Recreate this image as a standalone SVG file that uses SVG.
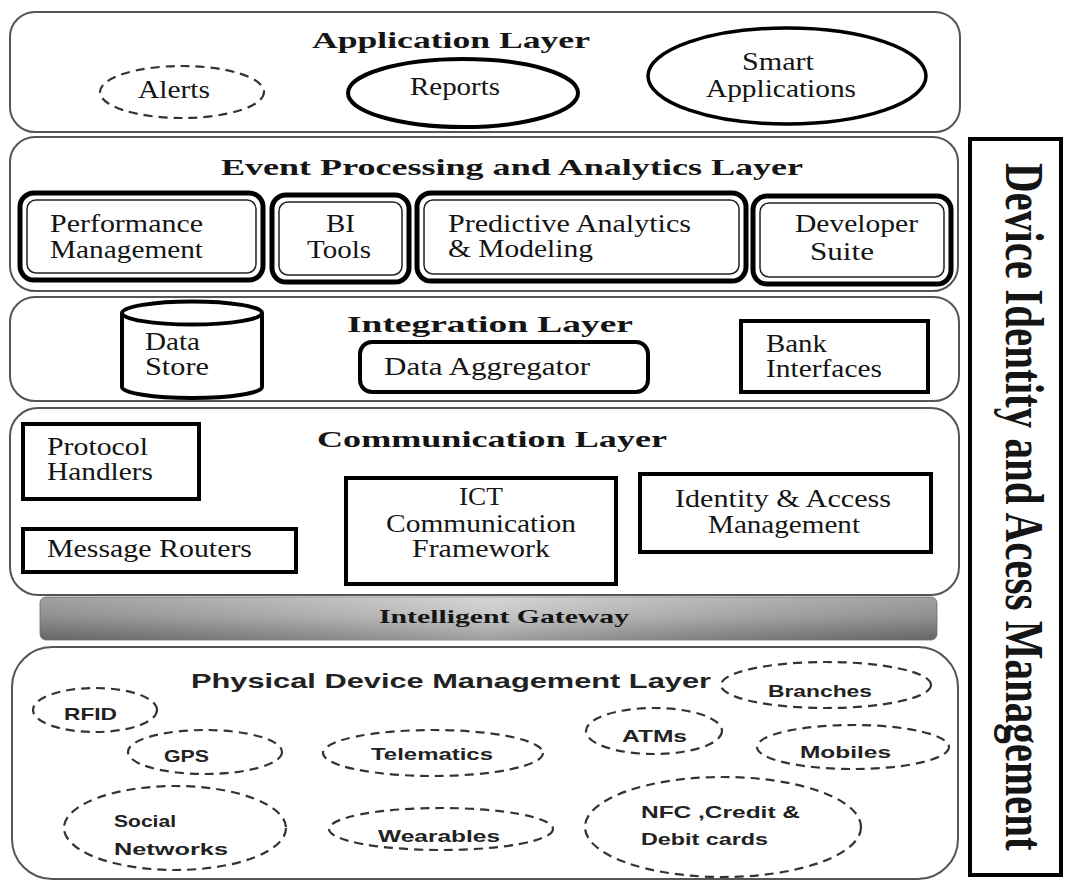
<svg xmlns="http://www.w3.org/2000/svg" width="1066" height="882" viewBox="0 0 1066 882">
<style>
.layer{fill:#fff;stroke:#555;stroke-width:2}
.s{font-family:"Liberation Serif","Times New Roman",serif;fill:#151515}
.t{font-weight:bold;font-size:24px}
.i{font-size:25px}
.ss{font-family:"Liberation Sans",Arial,sans-serif;fill:#222;font-weight:bold}
.pl{font-size:17px}
.dash{fill:none;stroke:#333;stroke-width:2.2;stroke-dasharray:9 6}
.thick{fill:#fff;stroke:#000;stroke-width:4}
.outer{fill:#fff;stroke:#000;stroke-width:5}
.inner{fill:none;stroke:#222;stroke-width:1.5}
</style>
<defs>
<linearGradient id="gv" x1="0" y1="0" x2="0" y2="1">
<stop offset="0" stop-color="#c9c9c9"/>
<stop offset="0.45" stop-color="#b4b4b4"/>
<stop offset="1" stop-color="#7e7e7e"/>
</linearGradient>
<linearGradient id="gh" x1="0" y1="0" x2="1" y2="0">
<stop offset="0" stop-color="#000" stop-opacity="0.2"/>
<stop offset="0.5" stop-color="#fff" stop-opacity="0.25"/>
<stop offset="1" stop-color="#000" stop-opacity="0.2"/>
</linearGradient>
</defs>
<rect width="1066" height="882" fill="#fff"/>

<g id="application-layer">
<rect class="layer" x="10" y="12" width="950" height="120" rx="25"/>
<text class="s t" x="312" y="48" textLength="278" lengthAdjust="spacingAndGlyphs">Application Layer</text>
</g>
<g id="alerts">
<ellipse class="dash" cx="182" cy="92" rx="82" ry="26"/>
<text class="s i" x="138" y="98" textLength="72" lengthAdjust="spacingAndGlyphs">Alerts</text>
</g>
<g id="reports">
<ellipse fill="#fff" stroke="#000" stroke-width="4" cx="463" cy="93" rx="115" ry="34"/>
<text class="s i" x="410" y="95" textLength="90" lengthAdjust="spacingAndGlyphs">Reports</text>
</g>
<g id="smart-applications">
<ellipse fill="#fff" stroke="#000" stroke-width="3.5" cx="787" cy="76" rx="139" ry="48"/>
<text class="s i" x="742" y="70" textLength="72" lengthAdjust="spacingAndGlyphs">Smart</text>
<text class="s i" x="706" y="97" textLength="150" lengthAdjust="spacingAndGlyphs">Applications</text>
</g>

<g id="event-layer">
<rect class="layer" x="10" y="137" width="948" height="154" rx="25"/>
<text class="s t" x="221" y="175" textLength="582" lengthAdjust="spacingAndGlyphs">Event Processing and Analytics Layer</text>
</g>
<g id="performance-management">
<rect class="outer" x="20" y="193" width="243" height="87" rx="14"/>
<rect class="inner" x="27" y="200" width="229" height="73" rx="9"/>
<text class="s i" x="50" y="232" textLength="153" lengthAdjust="spacingAndGlyphs">Performance</text>
<text class="s i" x="50" y="258" textLength="153" lengthAdjust="spacingAndGlyphs">Management</text>
</g>
<g id="bi-tools">
<rect class="outer" x="272" y="195" width="137" height="87" rx="14"/>
<rect class="inner" x="279" y="202" width="123" height="73" rx="9"/>
<text class="s i" x="326" y="232" textLength="29" lengthAdjust="spacingAndGlyphs">BI</text>
<text class="s i" x="307" y="258" textLength="64" lengthAdjust="spacingAndGlyphs">Tools</text>
</g>
<g id="predictive-analytics">
<rect class="outer" x="417" y="193" width="329" height="88" rx="14"/>
<rect class="inner" x="424" y="200" width="315" height="74" rx="9"/>
<text class="s i" x="448" y="232" textLength="243" lengthAdjust="spacingAndGlyphs">Predictive Analytics</text>
<text class="s i" x="448" y="257" textLength="145" lengthAdjust="spacingAndGlyphs">&amp; Modeling</text>
</g>
<g id="developer-suite">
<rect class="outer" x="753" y="196" width="198" height="88" rx="14"/>
<rect class="inner" x="760" y="203" width="184" height="74" rx="9"/>
<text class="s i" x="795" y="232" textLength="123" lengthAdjust="spacingAndGlyphs">Developer</text>
<text class="s i" x="810" y="260" textLength="64" lengthAdjust="spacingAndGlyphs">Suite</text>
</g>

<g id="integration-layer">
<rect class="layer" x="10" y="297" width="949" height="104" rx="25"/>
<text class="s t" x="347" y="332" textLength="286" lengthAdjust="spacingAndGlyphs">Integration Layer</text>
</g>
<g id="data-store">
<path fill="#fff" stroke="#000" stroke-width="4" d="M122,313 A70,11.5 0 0 1 262,313 L262,387 A70,11 0 0 1 122,387 Z"/>
<path fill="none" stroke="#000" stroke-width="4" d="M122,313 A70,11.5 0 0 0 262,313"/>
<text class="s i" x="145" y="350" textLength="55" lengthAdjust="spacingAndGlyphs">Data</text>
<text class="s i" x="145" y="375" textLength="64" lengthAdjust="spacingAndGlyphs">Store</text>
</g>
<g id="data-aggregator">
<rect class="thick" x="360" y="342" width="288" height="50" rx="12"/>
<text class="s i" x="384" y="375" textLength="206" lengthAdjust="spacingAndGlyphs">Data Aggregator</text>
</g>
<g id="bank-interfaces">
<rect class="thick" x="741" y="321" width="187" height="71"/>
<text class="s i" x="766" y="352" textLength="61" lengthAdjust="spacingAndGlyphs">Bank</text>
<text class="s i" x="766" y="377" textLength="116" lengthAdjust="spacingAndGlyphs">Interfaces</text>
</g>

<g id="communication-layer">
<rect class="layer" x="10" y="408" width="949" height="187" rx="28"/>
<text class="s t" x="317" y="447" textLength="350" lengthAdjust="spacingAndGlyphs">Communication Layer</text>
</g>
<g id="protocol-handlers">
<rect class="thick" x="23" y="424" width="176" height="75"/>
<text class="s i" x="47" y="455" textLength="101" lengthAdjust="spacingAndGlyphs">Protocol</text>
<text class="s i" x="47" y="480" textLength="106" lengthAdjust="spacingAndGlyphs">Handlers</text>
</g>
<g id="message-routers">
<rect class="thick" x="23" y="529" width="273" height="43"/>
<text class="s i" x="47" y="557" textLength="205" lengthAdjust="spacingAndGlyphs">Message Routers</text>
</g>
<g id="ict-framework">
<rect class="thick" x="346" y="478" width="270" height="106"/>
<text class="s i" x="459" y="505" textLength="44" lengthAdjust="spacingAndGlyphs">ICT</text>
<text class="s i" x="386" y="532" textLength="190" lengthAdjust="spacingAndGlyphs">Communication</text>
<text class="s i" x="412" y="557" textLength="138" lengthAdjust="spacingAndGlyphs">Framework</text>
</g>
<g id="identity-access">
<rect class="thick" x="640" y="474" width="291" height="78"/>
<text class="s i" x="675" y="507" textLength="216" lengthAdjust="spacingAndGlyphs">Identity &amp; Access</text>
<text class="s i" x="708" y="533" textLength="152" lengthAdjust="spacingAndGlyphs">Management</text>
</g>

<g id="intelligent-gateway">
<rect x="40" y="597" width="897" height="43" rx="6" fill="url(#gv)" stroke="#8a8a8a" stroke-width="1"/>
<rect x="40" y="597" width="897" height="43" rx="6" fill="url(#gh)"/>
<text class="s" font-weight="bold" font-size="19" x="379" y="623" textLength="250" lengthAdjust="spacingAndGlyphs">Intelligent Gateway</text>
</g>

<g id="physical-layer">
<rect class="layer" x="12" y="647" width="946" height="232" rx="40"/>
<text class="ss" font-size="21" x="191" y="688" textLength="520" lengthAdjust="spacingAndGlyphs">Physical Device Management Layer</text>
</g>
<g id="rfid">
<ellipse class="dash" cx="95" cy="710" rx="62" ry="22"/>
<text class="ss pl" x="64" y="720" textLength="53" lengthAdjust="spacingAndGlyphs">RFID</text>
</g>
<g id="gps">
<ellipse class="dash" cx="205" cy="752" rx="77" ry="22"/>
<text class="ss pl" x="164" y="762" textLength="45" lengthAdjust="spacingAndGlyphs">GPS</text>
</g>
<g id="telematics">
<ellipse class="dash" cx="433" cy="753" rx="110" ry="23"/>
<text class="ss pl" x="371" y="760" textLength="122" lengthAdjust="spacingAndGlyphs">Telematics</text>
</g>
<g id="social-networks">
<ellipse class="dash" cx="175" cy="828" rx="111" ry="42"/>
<text class="ss pl" x="114" y="827" textLength="62" lengthAdjust="spacingAndGlyphs">Social</text>
<text class="ss pl" x="114" y="855" textLength="114" lengthAdjust="spacingAndGlyphs">Networks</text>
</g>
<g id="wearables">
<ellipse class="dash" cx="441" cy="829" rx="112" ry="21"/>
<text class="ss pl" x="378" y="842" textLength="122" lengthAdjust="spacingAndGlyphs">Wearables</text>
</g>
<g id="branches">
<ellipse class="dash" cx="826" cy="685" rx="105" ry="23"/>
<text class="ss pl" x="768" y="697" textLength="104" lengthAdjust="spacingAndGlyphs">Branches</text>
</g>
<g id="atms">
<ellipse class="dash" cx="654" cy="731" rx="68" ry="23"/>
<text class="ss pl" x="622" y="742" textLength="65" lengthAdjust="spacingAndGlyphs">ATMs</text>
</g>
<g id="mobiles">
<ellipse class="dash" cx="853" cy="747" rx="96" ry="22"/>
<text class="ss pl" x="800" y="758" textLength="91" lengthAdjust="spacingAndGlyphs">Mobiles</text>
</g>
<g id="nfc-cards">
<ellipse class="dash" cx="723" cy="827" rx="138" ry="50"/>
<text class="ss pl" x="641" y="818" textLength="159" lengthAdjust="spacingAndGlyphs">NFC ,Credit  &amp;</text>
<text class="ss pl" x="641" y="845" textLength="127" lengthAdjust="spacingAndGlyphs">Debit cards</text>
</g>

<g id="device-identity">
<rect x="970" y="139" width="91" height="736" fill="#fff" stroke="#000" stroke-width="4"/>
<text class="s" font-weight="bold" font-size="41" transform="translate(1006,163) scale(1.32,1) rotate(90)" x="0" y="0">Device Identity and Acess Management</text>
</g>

<g id="connectors"/>
</svg>
